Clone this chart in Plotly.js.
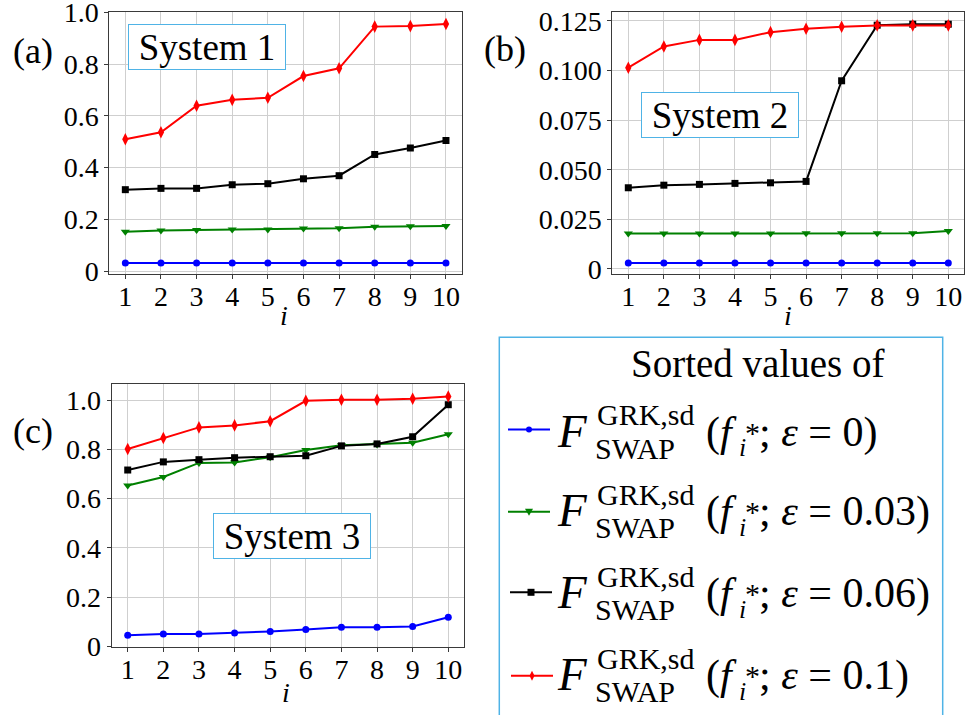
<!DOCTYPE html>
<html>
<head>
<meta charset="utf-8">
<script src="https://cdn.plot.ly/plotly-3.0.1.min.js"></script>
<style>html,body{margin:0;padding:0;background:#fff;}#chart{width:976px;height:715px;}</style>
</head>
<body>
<div id="chart"></div>
<script>
// ---------------- data ----------------
const idx = [1, 2, 3, 4, 5, 6, 7, 8, 9, 10];

// System 1 (panel a)
const sys1_eps0    = [0.032, 0.032, 0.032, 0.032, 0.032, 0.032, 0.032, 0.032, 0.032, 0.032];
const sys1_eps003  = [0.152, 0.157, 0.159, 0.161, 0.161, 0.165, 0.166, 0.172, 0.174, 0.175];
const sys1_eps006  = [0.315, 0.320, 0.320, 0.334, 0.338, 0.357, 0.369, 0.451, 0.476, 0.505];
const sys1_eps01   = [0.510, 0.537, 0.639, 0.662, 0.670, 0.754, 0.784, 0.945, 0.947, 0.955];

// System 2 (panel b)
const sys2_eps0    = [0.0030, 0.0030, 0.0030, 0.0030, 0.0030, 0.0030, 0.0030, 0.0030, 0.0030, 0.0030];
const sys2_eps003  = [0.0178, 0.0178, 0.0178, 0.0179, 0.0179, 0.0180, 0.0180, 0.0180, 0.0180, 0.0191];
const sys2_eps006  = [0.0409, 0.0422, 0.0426, 0.0431, 0.0434, 0.0441, 0.0948, 0.1228, 0.1233, 0.1233];
const sys2_eps01   = [0.1014, 0.1121, 0.1154, 0.1154, 0.1193, 0.1210, 0.1220, 0.1227, 0.1227, 0.1227];

// System 3 (panel c)
const sys3_eps0    = [0.046, 0.051, 0.051, 0.055, 0.061, 0.069, 0.078, 0.078, 0.081, 0.119];
const sys3_eps003  = [0.653, 0.688, 0.745, 0.747, 0.768, 0.797, 0.816, 0.820, 0.827, 0.861];
const sys3_eps006  = [0.716, 0.749, 0.758, 0.766, 0.770, 0.774, 0.814, 0.822, 0.851, 0.981];
const sys3_eps01   = [0.801, 0.846, 0.889, 0.897, 0.914, 0.997, 1.001, 1.001, 1.005, 1.014];

const epsLabels = ["0", "0.03", "0.06", "0.1"];
const systemNames = ["System 1", "System 2", "System 3"];
const panelLabels = ["(a)", "(b)", "(c)"];
const xTicks = [1, 2, 3, 4, 5, 6, 7, 8, 9, 10];
const yTicksA = [0, 0.2, 0.4, 0.6, 0.8, 1.0];
const yTextA  = ["0", "0.2", "0.4", "0.6", "0.8", "1.0"];
const yTicksB = [0, 0.025, 0.05, 0.075, 0.1, 0.125];
const yTextB  = ["0", "0.025", "0.050", "0.075", "0.100", "0.125"];
const yTicksC = [0, 0.2, 0.4, 0.6, 0.8, 1.0];
const yTextC  = ["0", "0.2", "0.4", "0.6", "0.8", "1.0"];

// ---------------- styling ----------------
const W = 976, H = 715;
const px = x => x / W;
const py = y => 1 - y / H;
const SERIF = "Liberation Serif, Times New Roman, serif";
const BOXBLUE = "#4fb3e6";
const colors  = ["#0000ff", "#008000", "#000000", "#ff0000"];
const symbols = ["circle", "triangle-down", "square", "diamond-tall"];
const msizes  = [7, 8, 7, 9];

const panels = [
  {series: [sys1_eps0, sys1_eps003, sys1_eps006, sys1_eps01], xa: "x",  ya: "y"},
  {series: [sys2_eps0, sys2_eps003, sys2_eps006, sys2_eps01], xa: "x2", ya: "y2"},
  {series: [sys3_eps0, sys3_eps003, sys3_eps006, sys3_eps01], xa: "x3", ya: "y3"}
];

const traces = [];
panels.forEach((p, pi) => {
  p.series.forEach((vals, si) => {
    traces.push({
      x: idx, y: vals, xaxis: p.xa, yaxis: p.ya,
      type: "scatter", mode: "lines+markers",
      name: "ε = " + epsLabels[si],
      showlegend: false,
      line: {color: colors[si], width: 2},
      marker: {symbol: symbols[si], size: msizes[si], color: colors[si]},
      cliponaxis: false
    });
  });
});

function xAxis(domain) {
  return {
    domain: domain, range: [0.55, 10.45],
    tickmode: "array", tickvals: xTicks, ticktext: xTicks.map(String),
    showgrid: true, gridcolor: "#cfcfcf", gridwidth: 1,
    showline: true, mirror: true, linecolor: "#3a3a3a", linewidth: 1,
    ticks: "outside", ticklen: 4, tickcolor: "#3a3a3a",
    tickfont: {family: SERIF, size: 28, color: "#000"},
    ticklabelstandoff: -7,
    ticklabeloverflow: "allow",
    zeroline: false
  };
}
function yAxis(domain, range, vals, text) {
  return {
    domain: domain, range: range,
    tickmode: "array", tickvals: vals, ticktext: text,
    showgrid: true, gridcolor: "#cfcfcf", gridwidth: 1,
    showline: true, mirror: true, linecolor: "#3a3a3a", linewidth: 1,
    ticks: "outside", ticklen: 4, tickcolor: "#3a3a3a",
    tickfont: {family: SERIF, size: 28, color: "#000"},
    ticklabeloverflow: "allow",
    zeroline: false
  };
}

const annotations = [];
// panel labels
[[33, 51], [505, 49], [33, 431]].forEach((c, i) => {
  annotations.push({text: panelLabels[i], xref: "paper", yref: "paper", x: px(c[0]), y: py(c[1]),
    xanchor: "center", yanchor: "middle", showarrow: false,
    font: {family: SERIF, size: 36, color: "#000"}});
});
// x-axis titles "i"
[[284, 315], [788, 315], [286, 692]].forEach(c => {
  annotations.push({text: "<i>i</i>", xref: "paper", yref: "paper", x: px(c[0]), y: py(c[1]),
    xanchor: "center", yanchor: "middle", showarrow: false,
    font: {family: SERIF, size: 28, color: "#000"}});
});
// system boxes
[[206.5, 47], [720, 114.5], [291.5, 535.5]].forEach((c, i) => {
  annotations.push({text: systemNames[i], xref: "paper", yref: "paper", x: px(c[0]), y: py(c[1]),
    xanchor: "center", yanchor: "middle", showarrow: false,
    font: {family: SERIF, size: 37, color: "#000"},
    bgcolor: "#ffffff", bordercolor: BOXBLUE, borderwidth: 1, borderpad: 1,
    width: 154, height: 42});
});
// legend title
annotations.push({text: "Sorted values of", xref: "paper", yref: "paper", x: px(757), y: py(363),
  xanchor: "center", yanchor: "middle", showarrow: false,
  font: {family: SERIF, size: 39, color: "#000"}});

// legend entries
const baselines = [446.5, 526, 608, 690];
const shapes = [];
shapes.push({type: "rect", xref: "paper", yref: "paper", x0: px(499.3), x1: px(942.7), y0: py(740), y1: py(337.3),
  line: {color: BOXBLUE, width: 1.5}, fillcolor: "rgba(0,0,0,0)"});
const sampleX = [[508, 550], [508, 550], [510, 552], [511, 553]];
const sampleY = [429.5, 511.7, 592.3, 675.7];
const markerPaths = [
  null,
  "M-4,3 L4,3 L0,-4 Z",
  null,
  "M0,5 L2.5,0 L0,-5 L-2.5,0 Z"
];
baselines.forEach((b, k) => {
  const yb = b;
  const A = (text, x, ymid, size, anchor) => annotations.push({
    text: text, xref: "paper", yref: "paper", x: px(x), y: py(ymid),
    xanchor: anchor || "left", yanchor: "middle", showarrow: false,
    font: {family: SERIF, size: size, color: "#000"}});
  A("<i>F</i>", 555, yb - 0.3375 * 47, 47);
  A("GRK,sd", 595, (yb - 21.5) - 0.3375 * 30, 30);
  A("SWAP", 593, (yb + 12) - 0.3375 * 30, 30);
  A("(<i>f</i>", 704, yb - 0.3375 * 42, 42);
  A("*", 743, (yb - 4) - 0.3375 * 30, 30);
  A("<i>i</i>", 737, (yb + 10) - 0.3375 * 26, 26);
  A("; <i>ε</i> = " + epsLabels[k] + ")", 757, yb - 0.3375 * 42, 42);

  // legend key
  const sx = sampleX[k], cy = sampleY[k], cx = (sx[0] + sx[1]) / 2;
  shapes.push({type: "line", xref: "paper", yref: "paper", x0: px(sx[0]), x1: px(sx[1]), y0: py(cy), y1: py(cy),
    line: {color: colors[k], width: 2}});
  if (k === 0) {
    shapes.push({type: "circle", xref: "paper", yref: "paper", xsizemode: "pixel", ysizemode: "pixel",
      xanchor: px(cx), yanchor: py(cy), x0: -3, x1: 3, y0: -3, y1: 3,
      fillcolor: colors[k], line: {color: colors[k], width: 0}});
  } else if (k === 2) {
    shapes.push({type: "rect", xref: "paper", yref: "paper", xsizemode: "pixel", ysizemode: "pixel",
      xanchor: px(cx), yanchor: py(cy), x0: -3.5, x1: 3.5, y0: -3.5, y1: 3.5,
      fillcolor: colors[k], line: {color: colors[k], width: 0}});
  } else {
    shapes.push({type: "path", xref: "paper", yref: "paper", xsizemode: "pixel", ysizemode: "pixel",
      xanchor: px(cx), yanchor: py(cy), path: markerPaths[k],
      fillcolor: colors[k], line: {color: colors[k], width: 0}});
  }
});

const layout = {
  width: W, height: H,
  margin: {l: 0, r: 0, t: 0, b: 0, pad: 0},
  paper_bgcolor: "#ffffff", plot_bgcolor: "#ffffff",
  showlegend: false,
  xaxis:  Object.assign(xAxis([px(109.3), px(462)]), {anchor: "y"}),
  yaxis:  Object.assign(yAxis([py(274.3), py(12)], [-0.012, 1.0015], yTicksA, yTextA), {anchor: "x"}),
  xaxis2: Object.assign(xAxis([px(612.3), px(964.3)]), {anchor: "y2"}),
  yaxis2: Object.assign(yAxis([py(274.3), py(12.3)], [-0.0027, 0.1293], yTicksB, yTextB), {anchor: "x2"}),
  xaxis3: Object.assign(xAxis([px(111.7), px(464.3)]), {anchor: "y3"}),
  yaxis3: Object.assign(yAxis([py(647), py(384)], [-0.002, 1.065], yTicksC, yTextC), {anchor: "x3"}),
  annotations: annotations,
  shapes: shapes,
  font: {family: SERIF, color: "#000"}
};

Plotly.newPlot("chart", traces, layout, {staticPlot: true, displayModeBar: false});
</script>
</body>
</html>
